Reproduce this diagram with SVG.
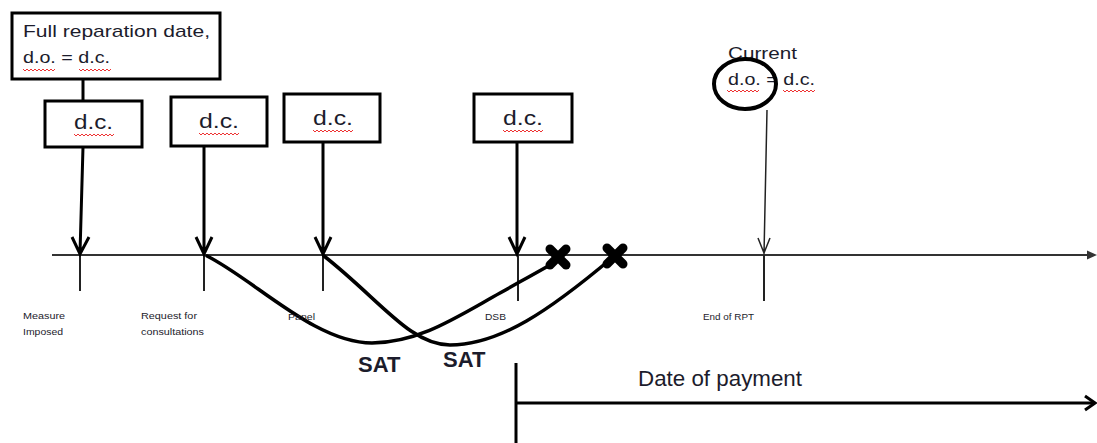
<svg xmlns="http://www.w3.org/2000/svg" width="1097" height="443" viewBox="0 0 1097 443">
<style>
  .box { fill: #fff; stroke: #000; stroke-width: 3; }
  .lbl { font-family: "Liberation Sans", Arial, sans-serif; fill: #1c1c2c; }
  .big { font-size: 17px; }
  .dc { font-size: 20px; }
  .tiny { font-size: 9px; }
  .sat { font-size: 22px; font-weight: bold; }
  .axis { stroke: #333; stroke-width: 2; fill: none; }
  .tick { stroke: #222; stroke-width: 2; fill: none; }
  .thick { stroke: #000; stroke-width: 3; fill: none; }
  .curve { stroke: #000; stroke-width: 3.5; fill: none; stroke-linecap: round; }
  .cross { stroke: #000; stroke-width: 9; stroke-linecap: round; }
  .sq { stroke: #e33; stroke-width: 1; fill: none; }
</style>
<defs>
  <path id="sq40" class="sq" d="M0,0 l2,2 l2,-2 l2,2 l2,-2 l2,2 l2,-2 l2,2 l2,-2 l2,2 l2,-2 l2,2 l2,-2 l2,2 l2,-2 l2,2 l2,-2 l2,2 l2,-2 l2,2 l2,-2"/>
  <path id="sq32" class="sq" d="M0,0 l2,2 l2,-2 l2,2 l2,-2 l2,2 l2,-2 l2,2 l2,-2 l2,2 l2,-2 l2,2 l2,-2 l2,2 l2,-2 l2,2 l2,-2"/>
</defs>
<rect width="1097" height="443" fill="#fff"/>

<g id="connectors">
  <line class="axis" x1="52" y1="255" x2="1090" y2="255"/>
  <path d="M1097,255 L1087,250.5 L1087,259.5 Z" fill="#333"/>
  <line class="tick" x1="80" y1="255" x2="80" y2="291"/>
  <line class="tick" x1="204" y1="255" x2="204" y2="291"/>
  <line class="tick" x1="323" y1="255" x2="323" y2="291"/>
  <line class="tick" x1="518" y1="255" x2="518" y2="301"/>
  <line class="tick" x1="764" y1="255" x2="764" y2="301"/>
  <line class="thick" x1="83" y1="79" x2="83" y2="101"/>
  <path class="thick" d="M83,147 L80,253 M72,237 L80,254 L89,237"/>
  <path class="thick" d="M204,146 L204,253 M196,237 L204,254 L212,237"/>
  <path class="thick" d="M323,142 L323,253 M315,237 L323,254 L331,237"/>
  <path class="thick" d="M517,142 L517,253 M509,237 L517,254 L525,237"/>
  <path d="M767,110 L764,254 M758,238 L764,253 L770,238" stroke="#222" stroke-width="1.5" fill="none"/>
  <path class="curve" d="M207,256 C255,280 315,343 372,343 C420,342 455,318 500,293 C525,279 545,268 557,261"/>
  <path class="curve" d="M324,256 C380,300 410,345 450,345 C500,345 550,310 612,258"/>
  <line class="thick" x1="516" y1="363" x2="516" y2="443"/>
  <line class="thick" x1="516" y1="403" x2="1094" y2="403"/>
  <path class="thick" d="M1085,396 L1095,403 L1085,410"/>
</g>

<g id="crosses">
  <g transform="translate(558,257)">
    <line class="cross" x1="-8" y1="-8" x2="8" y2="8"/>
    <line class="cross" x1="-8" y1="8" x2="8" y2="-8"/>
  </g>
  <g transform="translate(615,256)">
    <line class="cross" x1="-8" y1="-8" x2="8" y2="8"/>
    <line class="cross" x1="-8" y1="8" x2="8" y2="-8"/>
  </g>
</g>

<g id="full-reparation">
  <rect class="box" x="12" y="13" width="208" height="66"/>
  <text class="lbl big" x="23" y="37" textLength="187" lengthAdjust="spacingAndGlyphs">Full reparation date,</text>
  <text class="lbl big" x="23" y="63" textLength="87" lengthAdjust="spacingAndGlyphs">d.o. = d.c.</text>
  <use href="#sq32" x="23" y="69"/>
  <use href="#sq32" x="79" y="69"/>
</g>

<g id="dc1">
  <rect class="box" x="45" y="101" width="97" height="46"/>
  <text class="lbl dc" x="74" y="129" textLength="39" lengthAdjust="spacingAndGlyphs">d.c.</text>
  <use href="#sq40" x="74" y="134"/>
</g>
<g id="dc2">
  <rect class="box" x="171" y="97" width="96" height="49"/>
  <text class="lbl dc" x="199" y="128" textLength="40" lengthAdjust="spacingAndGlyphs">d.c.</text>
  <use href="#sq40" x="199" y="133"/>
</g>
<g id="dc3">
  <rect class="box" x="284" y="94" width="96" height="48"/>
  <text class="lbl dc" x="313" y="125" textLength="40" lengthAdjust="spacingAndGlyphs">d.c.</text>
  <use href="#sq40" x="313" y="130"/>
</g>
<g id="dc4">
  <rect class="box" x="474" y="94" width="98" height="48"/>
  <text class="lbl dc" x="503" y="125" textLength="40" lengthAdjust="spacingAndGlyphs">d.c.</text>
  <use href="#sq40" x="503" y="130"/>
</g>

<g id="current">
  <text class="lbl big" x="728" y="59" textLength="69" lengthAdjust="spacingAndGlyphs">Current</text>
  <text class="lbl big" x="728" y="85" textLength="87" lengthAdjust="spacingAndGlyphs">d.o. = d.c.</text>
  <use href="#sq32" x="727" y="90"/>
  <use href="#sq32" x="783" y="90"/>
  <ellipse cx="745" cy="84" rx="31" ry="25" fill="none" stroke="#000" stroke-width="4"/>
</g>

<g id="tick-labels">
  <text class="lbl tiny" x="23" y="319" textLength="42" lengthAdjust="spacingAndGlyphs">Measure</text>
  <text class="lbl tiny" x="23" y="335" textLength="40" lengthAdjust="spacingAndGlyphs">Imposed</text>
  <text class="lbl tiny" x="141" y="319" textLength="56" lengthAdjust="spacingAndGlyphs">Request for</text>
  <text class="lbl tiny" x="141" y="335" textLength="63" lengthAdjust="spacingAndGlyphs">consultations</text>
  <text class="lbl tiny" x="288" y="320" textLength="27" lengthAdjust="spacingAndGlyphs">Panel</text>
  <text class="lbl tiny" x="485" y="320" textLength="21" lengthAdjust="spacingAndGlyphs">DSB</text>
  <text class="lbl tiny" x="703" y="320" textLength="51" lengthAdjust="spacingAndGlyphs">End of RPT</text>
</g>

<g id="sat-labels">
  <text class="lbl sat" x="358" y="372">SAT</text>
  <text class="lbl sat" x="443" y="367">SAT</text>
</g>

<g id="payment">
  <text class="lbl" x="638" y="386" font-size="22" textLength="164" lengthAdjust="spacingAndGlyphs">Date of payment</text>
</g>
</svg>
